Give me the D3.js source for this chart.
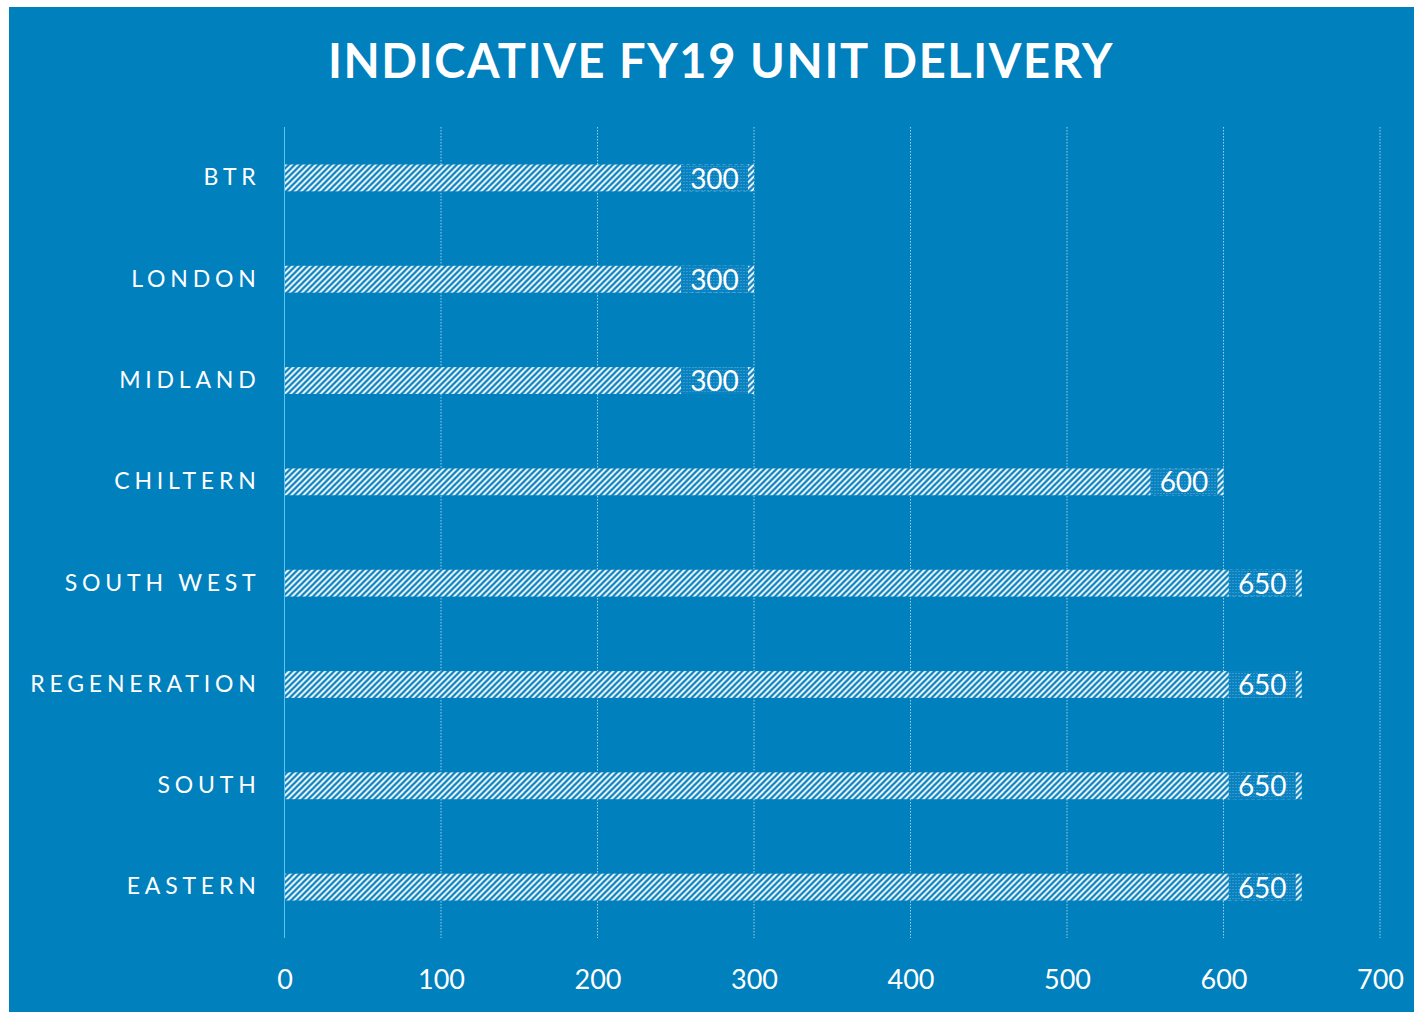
<!DOCTYPE html>
<html>
<head>
<meta charset="utf-8">
<script src="https://cdn.jsdelivr.net/npm/d3@7"></script>
<style>
  body { margin: 0; background: #fff; }
  svg { display: block; }
  text { font-family: Lato, "Open Sans", sans-serif; fill: #fff; }
</style>
</head>
<body>
<div id="chart"></div>
<script>
// data
const categories = ["BTR", "LONDON", "MIDLAND", "CHILTERN", "SOUTH WEST", "REGENERATION", "SOUTH", "EASTERN"];
const units = [300, 300, 300, 600, 650, 650, 650, 650];
const xTicks = [0, 100, 200, 300, 400, 500, 600, 700];

const W = 1414, H = 1012;
const margin = { top: 127, right: 34, bottom: 74, left: 284.5 };
const width = W - margin.left - margin.right,
      height = H - margin.top - margin.bottom;

const svg = d3.select("#chart").append("svg")
    .attr("width", W)
    .attr("height", H);

// patterns
const defs = svg.append("defs");
const hatch = defs.append("pattern")
    .attr("id", "hatch")
    .attr("patternUnits", "userSpaceOnUse")
    .attr("width", 6).attr("height", 6);
hatch.append("rect").attr("width", 6).attr("height", 6).attr("fill", "#ffffff");
hatch.append("path")
    .attr("d", "M-1,1 l2,-2 M0,6 l6,-6 M5,7 l2,-2")
    .attr("stroke", "#0f83c0").attr("stroke-width", 2.3);

const dots = defs.append("pattern")
    .attr("id", "dots")
    .attr("patternUnits", "userSpaceOnUse")
    .attr("width", 3).attr("height", 3);
dots.append("rect").attr("width", 3).attr("height", 3).attr("fill", "#0a82bf");
dots.append("rect").attr("width", 1).attr("height", 1).attr("fill", "#5aaedb");

// background panel
svg.append("rect")
    .attr("x", 9).attr("y", 7)
    .attr("width", W - 9).attr("height", H - 7)
    .attr("fill", "#0080bd");

svg.append("text")
    .attr("x", 721).attr("y", 78)
    .attr("text-anchor", "middle")
    .style("font-size", "47px")
    .style("font-weight", "bold")
    .style("letter-spacing", "1.6px")
    .text("INDICATIVE FY19 UNIT DELIVERY");

const g = svg.append("g")
    .attr("transform", "translate(" + margin.left + "," + margin.top + ")");

// scales
const x = d3.scaleLinear().domain([0, 700]).range([0, width]);
const y = d3.scaleBand().domain(categories).range([0, height]).paddingInner(0.735).paddingOuter(0.37);

// gridlines
g.selectAll(".grid")
    .data(xTicks.filter(d => d > 0))
    .enter().append("line")
    .attr("class", "grid")
    .attr("x1", d => x(d)).attr("x2", d => x(d))
    .attr("y1", 0).attr("y2", height)
    .attr("stroke", "#9fcde6")
    .attr("stroke-width", 1)
    .attr("stroke-dasharray", "1.5,1.5");

// bars
const data = categories.map((c, i) => ({ category: c, value: units[i] }));

g.selectAll(".bar")
    .data(data)
    .enter().append("rect")
    .attr("class", "bar")
    .attr("x", x(0))
    .attr("y", d => y(d.category))
    .attr("width", d => x(d.value) - x(0))
    .attr("height", y.bandwidth())
    .attr("fill", "url(#hatch)");

// value label boxes
const boxW = 67, boxGap = 6;
g.selectAll(".lblbox")
    .data(data)
    .enter().append("rect")
    .attr("class", "lblbox")
    .attr("x", d => x(d.value) - boxGap - boxW)
    .attr("y", d => y(d.category))
    .attr("width", boxW)
    .attr("height", y.bandwidth())
    .attr("fill", "url(#dots)");

g.selectAll(".lbl")
    .data(data)
    .enter().append("text")
    .attr("class", "lbl")
    .attr("x", d => x(d.value) - boxGap - boxW / 2)
    .attr("y", d => y(d.category) + y.bandwidth() / 2)
    .attr("dy", "0.38em")
    .attr("text-anchor", "middle")
    .style("font-size", "28px")
    .text(d => d.value);

// zero line
g.append("line")
    .attr("x1", x(0)).attr("x2", x(0))
    .attr("y1", 0).attr("y2", height)
    .attr("stroke", "#5cc3f2")
    .attr("stroke-width", 1);

// axes
const xAxis = d3.axisBottom(x).tickValues(xTicks).tickSize(0).tickPadding(32);
const gx = g.append("g")
    .attr("class", "x-axis axis")
    .attr("transform", "translate(0," + height + ")")
    .call(xAxis);
gx.select(".domain").remove();
gx.selectAll("text").style("font-size", "27px").attr("fill", "#fff");

const yAxis = d3.axisLeft(y).tickSize(0).tickPadding(24);
const gy = g.append("g")
    .attr("class", "y-axis axis")
    .call(yAxis);
gy.select(".domain").remove();
gy.selectAll("text")
    .style("font-size", "23px")
    .style("letter-spacing", "4.8px")
    .attr("fill", "#fff");
</script>
</body>
</html>
